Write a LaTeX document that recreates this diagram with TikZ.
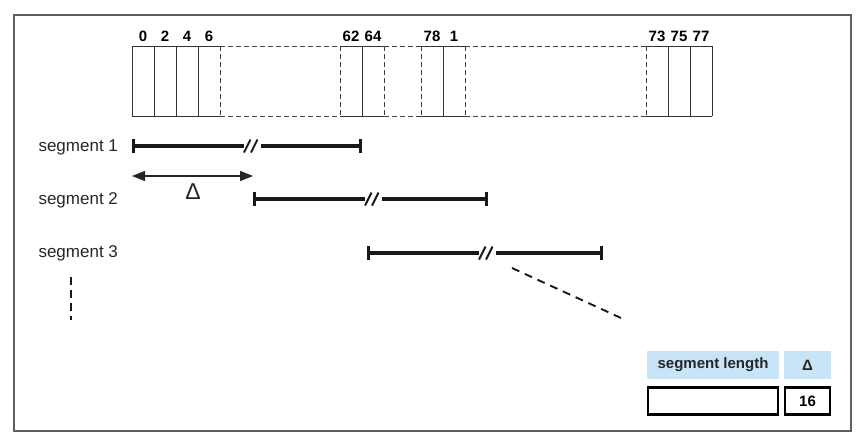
\documentclass[tikz,border=0pt]{standalone}
\usepackage{fontspec}
\setmainfont{Liberation Sans}
\usetikzlibrary{arrows.meta, positioning, calc}
\definecolor{seglight}{RGB}{200, 228, 246}
\definecolor{framegray}{RGB}{95, 95, 95}

\tikzset{
  cellsolid/.style={draw=black!80, line width=1pt},
  celldash/.style={draw=black!75, line width=1pt, dash pattern=on 5pt off 3pt},
  seg/.style={line width=3.2pt, black!90},
  num/.style={font=\fontsize{15}{17}\selectfont\bfseries},
  seglabel/.style={font=\fontsize{17}{20}\selectfont, anchor=west, text=black!85},
  legendbox/.style={fill=seglight, minimum height=28pt, inner sep=0pt,
                    font=\fontsize{15}{17}\selectfont\bfseries, text=black!85},
  valuebox/.style={draw=black, line width=2.8pt, minimum height=27pt, inner sep=0pt,
                   font=\fontsize{15}{17}\selectfont\bfseries}
}

\begin{document}
\begin{tikzpicture}[x=1pt, y=-1pt]
  \useasboundingbox (0,0) rectangle (865,440);
  \draw[framegray, line width=1.8pt] (14,15) rectangle (851,431);

  % buffer of entries
  \foreach \x/\lab in {132/0, 154/2, 176/4, 198/6, 340/62, 362/64,
                       421/78, 443/1, 646/73, 668/75, 690/77}
    \node[num] (n\lab) at (\x+11,36) {\lab};
  \foreach \x in {132, 154, 176, 198, 362, 443, 668, 690, 712}
    \draw[cellsolid] (\x,46) -- (\x,116);
  \foreach \x in {220, 340, 384, 421, 465, 646}
    \draw[celldash] (\x,46) -- (\x,116);
  \foreach \a/\b in {132/220, 340/384, 421/465, 646/712} {
    \draw[cellsolid] (\a,46) -- (\b,46);
    \draw[cellsolid] (\a,116) -- (\b,116);
  }
  \foreach \a/\b in {220/340, 384/421, 465/646} {
    \draw[celldash] (\a,46) -- (\b,46);
    \draw[celldash] (\a,116) -- (\b,116);
  }

  % segments
  \node[seglabel] (lab1) at (35,147) {segment 1};
  \node[seglabel] (lab2) at (35,200) {segment 2};
  \node[seglabel] (lab3) at (35,253) {segment 3};

  \coordinate (s1l) at (132,146);  \coordinate (s1r) at (362,146);
  \coordinate (s1a) at (244,146);  \coordinate (s1b) at (261,146);
  \coordinate (s2l) at (253,199);  \coordinate (s2r) at (488,199);
  \coordinate (s2a) at (365,199);  \coordinate (s2b) at (382,199);
  \coordinate (s3l) at (367,253);  \coordinate (s3r) at (603,253);
  \coordinate (s3a) at (479,253);  \coordinate (s3b) at (496,253);

  \foreach \s in {s1, s2, s3} {
    \draw[seg, {Bar[width=14pt]}-] (\s l) -- (\s a);
    \draw[seg, -{Bar[width=14pt]}] (\s b) -- (\s r);
    \draw[line width=2pt, black!90] ($(\s a)+(0,6.5)$) -- ++(6.5,-13);
    \draw[line width=2pt, black!90] ($(\s a)+(7,6.5)$) -- ++(6.5,-13);
  }

  % offset between segments
  \coordinate (d1) at (132,176);
  \coordinate (d2) at (253,176);
  \draw[{Triangle[length=13pt, width=10pt]}-{Triangle[length=13pt, width=10pt]}, line width=1.3pt, black!85] (d1) -- (d2);
  \node[font=\fontsize{23}{25}\selectfont, text=black!85] (dlab) at (193,192) {Δ};

  \coordinate (t1) at (512,268);
  \coordinate (t2) at (621,318);
  \draw[line width=1.9pt, black!90, dash pattern=on 8pt off 6pt] (t1) -- (t2);
  \coordinate (v1) at (71,277);
  \coordinate (v2) at (71,320);
  \draw[line width=2.4pt, black!90, dash pattern=on 8pt off 5pt] (v1) -- (v2);

  % legend
  \node[legendbox, minimum width=132pt] (len) at (713,365) {segment length};
  \node[legendbox, minimum width=47pt] (dl) at (807.5,365) {Δ};
  \node[valuebox, minimum width=130pt] (lenval) at (713,401) {};
  \node[valuebox, minimum width=45pt] (dlval) at (807.5,401) {16};
\end{tikzpicture}
\end{document}
